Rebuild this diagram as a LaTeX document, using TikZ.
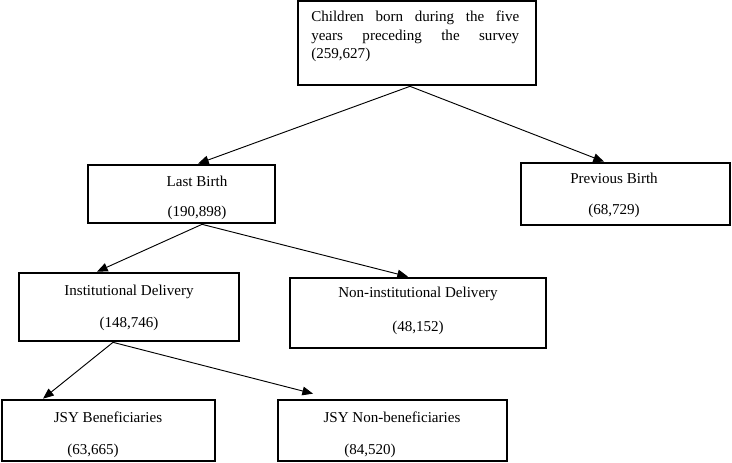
\documentclass[tikz,border=0pt]{standalone}
\usepackage{fontspec}
\setmainfont{Liberation Serif}
\usetikzlibrary{arrows.meta}
\begin{document}
\begin{tikzpicture}[x=0.75pt,y=-0.75pt,
  box/.style={draw=black,line width=2pt,rectangle,inner sep=0pt,fill=white},
  lbl/.style={inner sep=0pt,anchor=base,font=\fontsize{11.3}{14}\selectfont},
  arr/.style={line width=0.7pt,-{Triangle[length=8pt,width=6.5pt]}}]
\fill[white] (0,0) rectangle (732,463);
\useasboundingbox (0,0) rectangle (732,463);
% boxes
\node[box,minimum width=178.5pt,minimum height=63pt] (top) at (417,43) {};
\node[box,minimum width=140.25pt,minimum height=43.5pt] (last) at (181.5,194) {};
\node[box,minimum width=156.75pt,minimum height=46.5pt] (prev) at (625.5,194) {};
\node[box,minimum width=165pt,minimum height=51pt] (inst) at (129,307) {};
\node[box,minimum width=192pt,minimum height=52.5pt] (noninst) at (418,313) {};
\node[box,minimum width=159.75pt,minimum height=45.75pt] (jsyb) at (108.5,430.5) {};
\node[box,minimum width=171.75pt,minimum height=45.75pt] (jsyn) at (392.5,430.5) {};
% texts
\node[inner sep=0pt,anchor=north west,align=left,
  font=\fontsize{11.3}{14}\selectfont] (topT) at (311,10.5)
  {\makebox[156pt][s]{Children born during the five}\\
   \makebox[156pt][s]{years preceding the survey}\\
   (259,627)};
\node[lbl] (lastT) at (197,187) {Last Birth};
\node[lbl] (lastN) at (197,217) {(190,898)};
\node[lbl] (prevT) at (614,184) {Previous Birth};
\node[lbl] (prevN) at (614,215) {(68,729)};
\node[lbl] (instT) at (129,296) {Institutional Delivery};
\node[lbl] (instN) at (129,328) {(148,746)};
\node[lbl] (noninstT) at (418,298) {Non-institutional Delivery};
\node[lbl] (noninstN) at (418,332) {(48,152)};
\node[lbl] (jsybT) at (108,422) {JSY Beneficiaries};
\node[lbl] (jsybN) at (93,454) {(63,665)};
\node[lbl] (jsynT) at (392,422) {JSY Non-beneficiaries};
\node[lbl] (jsynN) at (370,454) {(84,520)};
% connectors
\draw[arr] ([xshift=-5.25pt]top.south) -- ([xshift=12.4pt]last.north);
\draw[arr] ([xshift=-5.25pt]top.south) -- ([xshift=-16.1pt]prev.north);
\draw[arr] ([xshift=15.4pt]last.south) -- ([xshift=-24pt]inst.north);
\draw[arr] ([xshift=15.4pt]last.south) -- ([xshift=-7.5pt]noninst.north);
\draw[arr] ([xshift=-12pt]inst.south) -- ([xshift=-49.1pt]jsyb.north);
\draw[arr] ([xshift=-12pt]inst.south) -- ([xshift=-59.6pt,yshift=3.75pt]jsyn.north);
\end{tikzpicture}
\end{document}
